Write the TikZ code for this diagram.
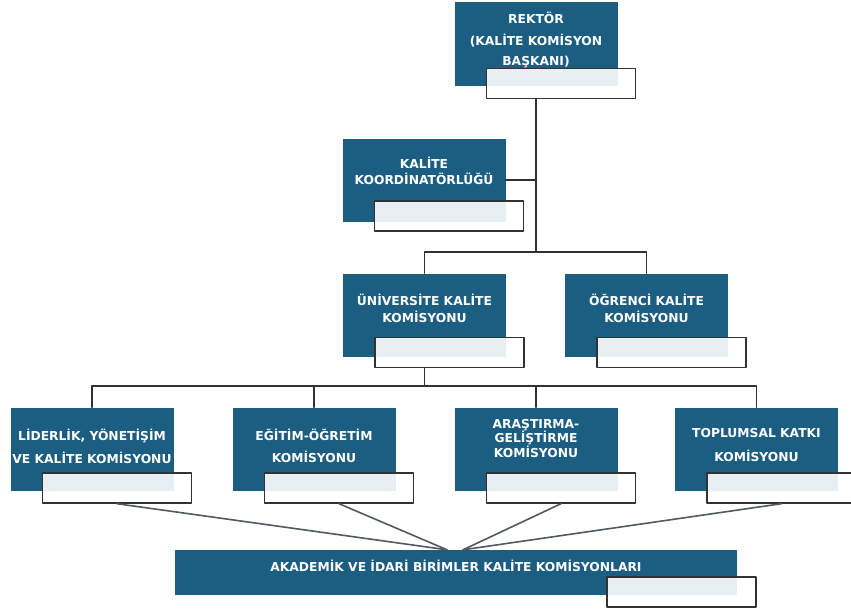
\documentclass[tikz,border=0pt]{standalone}
\usepackage{fontspec}
\setmainfont{DejaVu Sans}
\usetikzlibrary{calc}
\definecolor{kurumblue}{RGB}{27,94,130}
\definecolor{hatgray}{RGB}{50,50,50}
\definecolor{fangray}{RGB}{80,90,96}
\lineskiplimit=-20pt

\begin{document}
\begin{tikzpicture}[x=1pt, y=-1pt, line cap=round, line join=round,
  birim/.style={rectangle, fill=kurumblue, minimum width=163pt, minimum height=83pt, inner sep=0pt},
  kutu/.style={rectangle, draw=hatgray, line width=1.4pt, fill=white, fill opacity=0.9, minimum width=149pt, minimum height=30pt, inner sep=0pt},
  yazi/.style={text=white, align=center, font=\bfseries\fontsize{12.3}{13.5}\selectfont, inner sep=0pt},
  hat/.style={draw=hatgray, line width=1.5pt},
  yelpaze/.style={draw=fangray, line width=1.6pt}]
\useasboundingbox (0,0) rectangle (851,610);
% rektor
\node[birim] (rektor) at (536,44) {};
\node[kutu] (rektorW) at ($(rektor)+(25,39.5)$) {};
\node[yazi] (rektorT) at (536,40) {REKTÖR\\[9pt](KALİTE KOMİSYON\\[6pt]BAŞKANI)};
% koordinatorluk
\node[birim] (koord) at (424,180) {};
\node[kutu] (koordW) at ($(koord)+(25,36)$) {};
\node[yazi] (koordT) at (424,171) {KALİTE\\[2.5pt]KOORDİNATÖRLÜĞÜ};
% komisyonlar
\node[birim] (univ) at (424.5,315) {};
\node[kutu] (univW) at ($(univ)+(25,37.5)$) {};
\node[yazi] (univT) at (424.5,308.5) {ÜNİVERSİTE KALİTE\\[3.5pt]KOMİSYONU};
\node[birim] (ogr) at (646.5,315) {};
\node[kutu] (ogrW) at ($(ogr)+(25,37.5)$) {};
\node[yazi] (ogrT) at (646.5,308.5) {ÖĞRENCİ KALİTE\\[3.5pt]KOMİSYONU};
% alt komisyonlar
\node[birim] (lid) at (92,449) {};
\node[kutu] (lidW) at ($(lid)+(25,39)$) {};
\node[yazi] (lidT) at (92,446.5) {LİDERLİK, YÖNETİŞİM\\[9.5pt]VE KALİTE KOMİSYONU};
\node[birim] (egt) at (314,449) {};
\node[kutu] (egtW) at ($(egt)+(25,39)$) {};
\node[yazi] (egtT) at (314,446) {EĞİTİM-ÖĞRETİM\\[9pt]KOMİSYONU};
\node[birim] (ars) at (536,449) {};
\node[kutu] (arsW) at ($(ars)+(25,39)$) {};
\node[yazi] (arsT) at (536,438.5) {ARAŞTIRMA-\\[1pt]GELİŞTİRME\\[1pt]KOMİSYONU};
\node[birim] (toplum) at (756.5,449) {};
\node[kutu] (toplumW) at ($(toplum)+(25,39)$) {};
\node[yazi] (toplumT) at (756.5,445) {TOPLUMSAL KATKI\\[10pt]KOMİSYONU};
% birimler
\node[birim, minimum width=562pt, minimum height=45pt] (akad) at (456,572.5) {};
\node[kutu] (akadW) at ($(akad)+(225.5,19.5)$) {};
\node[yazi] (akadT) at (456,566) {AKADEMİK VE İDARİ BİRİMLER KALİTE KOMİSYONLARI};
% baglantilar
\coordinate (kavsak1) at (rektor |- 0,252);
\coordinate (kavsak2) at (univ |- 0,386);
\draw[hat] (rektorW.south -| rektor) -- (kavsak1);
\draw[hat] (koord.east) -- (koord.east -| kavsak1);
\draw[hat] (univ.north) |- (kavsak1) -| (ogr.north);
\draw[hat] (univW.south -| univ) -- (kavsak2);
\draw[hat] (lid.north) |- (kavsak2) -| (toplum.north);
\draw[hat] (egt.north) -- (egt.north |- kavsak2);
\draw[hat] (ars.north) -- (ars.north |- kavsak2);
\coordinate (odak1) at ($(akad.north)+(-9,0)$);
\coordinate (odak2) at ($(akad.north)+(7,0)$);
\draw[yelpaze] (lidW.south) -- (odak1);
\draw[yelpaze] (egtW.south) -- (odak1);
\draw[yelpaze] (arsW.south) -- (odak2);
\draw[yelpaze] (toplumW.south) -- (odak2);
\end{tikzpicture}
\end{document}
